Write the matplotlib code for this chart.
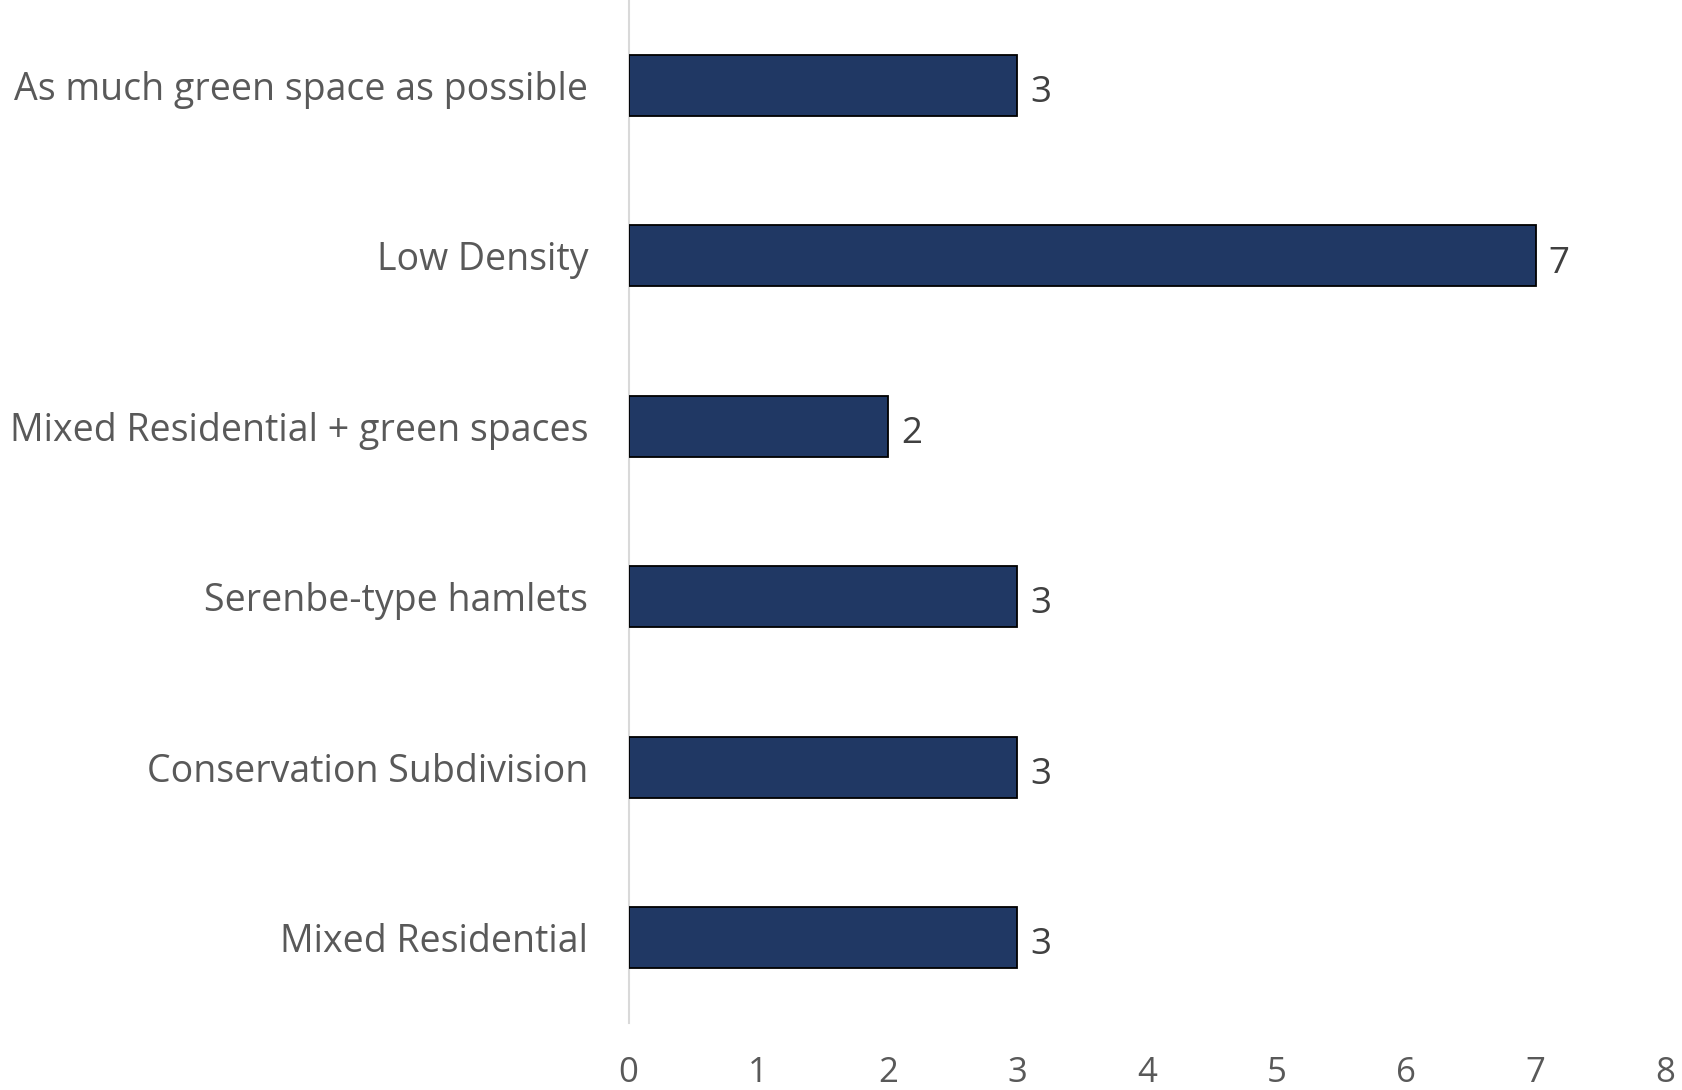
import matplotlib
matplotlib.use("Agg")
import matplotlib.pyplot as plt

categories = ["As much green space as possible", "Low Density",
              "Mixed Residential + green spaces", "Serenbe-type hamlets",
              "Conservation Subdivision", "Mixed Residential"]
values = [3, 7, 2, 3, 3, 3]
xticks = [0, 1, 2, 3, 4, 5, 6, 7, 8]

plt.rcParams['font.family'] = ['Open Sans', 'DejaVu Sans']

fig = plt.figure(figsize=(16.82, 10.90), dpi=100)
ax = fig.add_axes([628.6 / 1682, 1 - 1022.7 / 1090, (8 * 129.6) / 1682, 1022.7 / 1090])

ypos = list(range(len(categories)))[::-1]
ax.barh(ypos, values, height=0.358, color="#203864", edgecolor="black", linewidth=1.3, zorder=3)
for y, v in zip(ypos, values):
    ax.text(v + 0.1, y - 0.02, str(v), va="center_baseline", ha="left", fontsize=26.5, color="#404040")

ax.set_xlim(0, 8)
ax.set_ylim(-0.5, 5.5)
ax.set_yticks(ypos)
ax.set_yticklabels(categories, fontsize=27, color="#595959")
ax.set_xticks(xticks)
ax.set_xticklabels([str(t) for t in xticks], fontsize=25, color="#595959")
ax.tick_params(axis="both", length=0)
ax.tick_params(axis="y", pad=29)
ax.tick_params(axis="x", pad=24)
for s in ["top", "right", "bottom"]:
    ax.spines[s].set_visible(False)
ax.spines["left"].set_color("#d9d9d9")
ax.spines["left"].set_linewidth(1.5)

fig.savefig("out.png", dpi=100)
